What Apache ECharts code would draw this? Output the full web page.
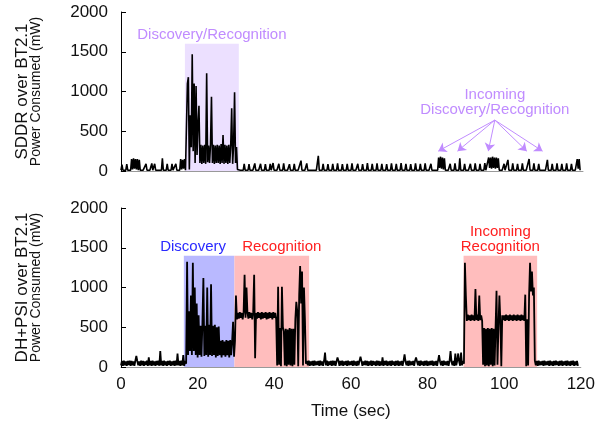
<!DOCTYPE html>
<html>
<head>
<meta charset="utf-8">
<script src="https://cdn.jsdelivr.net/npm/echarts@6/dist/echarts.min.js"></script>
<style>
	html, body { margin: 0; padding: 0; background: #fff; }
	#main { width: 598px; height: 425px; }
</style>
</head>
<body>
<div id="main"></div>
<script>
// sample step (sec) of both traces
var stepSec = 0.25;

var xTicks = [0, 20, 40, 60, 80, 100, 120];

// SDDR over BT2.1, one row = 5 sec
var sddrPower = [
	10, 80, 10, 10, 10, 10, 85, 10, 10, 10, 10, 150, 20, 160, 30, 150, 20, 150, 10, 140,
	10, 10, 10, 10, 10, 10, 90, 10, 10, 10, 10, 10, 95, 10, 10, 90, 10, 10, 10, 10,
	10, 10, 10, 160, 10, 10, 10, 10, 90, 10, 10, 10, 10, 90, 10, 10, 10, 90, 10, 10,
	10, 10, 150, 20, 140, 30, 150, 10, 30, 1100, 1180, 20, 700, 300, 1470, 250, 1100, 100, 1070, 200,
	600, 820, 100, 330, 90, 320, 100, 330, 90, 1230, 110, 320, 100, 330, 935, 100, 330, 90, 320, 100,
	330, 100, 320, 90, 340, 100, 453, 90, 330, 100, 320, 90, 330, 100, 320, 790, 90, 330, 990, 100,
	300, 20, 10, 10, 10, 10, 10, 10, 90, 10, 10, 10, 10, 85, 10, 10, 10, 10, 10, 95,
	10, 10, 10, 10, 10, 90, 10, 10, 10, 10, 85, 10, 10, 10, 10, 90, 10, 10, 100, 10,
	10, 10, 10, 10, 90, 10, 10, 10, 10, 95, 10, 10, 10, 10, 10, 85, 10, 10, 10, 10,
	90, 10, 10, 10, 10, 10, 10, 130, 10, 10, 10, 10, 10, 95, 10, 10, 10, 10, 10, 10,
	10, 10, 10, 10, 10, 190, 10, 10, 10, 10, 90, 10, 10, 10, 10, 85, 10, 10, 10, 10,
	90, 10, 10, 10, 10, 95, 10, 10, 10, 10, 85, 10, 10, 10, 10, 90, 10, 10, 10, 10,
	95, 10, 10, 10, 10, 10, 90, 10, 10, 10, 10, 85, 10, 10, 10, 10, 100, 10, 10, 10,
	10, 90, 10, 10, 10, 10, 95, 10, 10, 10, 10, 90, 10, 10, 10, 10, 85, 10, 10, 10,
	10, 95, 10, 10, 10, 10, 90, 10, 10, 10, 10, 100, 10, 10, 10, 10, 90, 10, 10, 10,
	10, 85, 10, 10, 10, 10, 95, 10, 10, 10, 10, 90, 10, 10, 10, 10, 95, 10, 10, 10,
	10, 10, 90, 10, 10, 10, 10, 10, 10, 10, 170, 40, 180, 30, 170, 20, 160, 10, 10, 10,
	10, 10, 90, 10, 10, 10, 10, 95, 10, 10, 10, 10, 160, 10, 10, 10, 10, 90, 10, 10,
	10, 10, 10, 90, 10, 10, 10, 10, 95, 10, 10, 10, 10, 90, 10, 10, 10, 10, 100, 10,
	10, 10, 170, 40, 170, 30, 180, 40, 170, 30, 170, 40, 160, 10, 10, 10, 10, 10, 90, 10,
	10, 10, 140, 10, 10, 10, 10, 95, 10, 10, 10, 10, 90, 10, 10, 10, 10, 95, 10, 10,
	10, 10, 10, 10, 150, 10, 10, 10, 10, 95, 10, 10, 10, 10, 90, 10, 10, 10, 10, 10,
	10, 10, 10, 140, 10, 10, 10, 10, 90, 10, 10, 10, 10, 95, 10, 10, 10, 10, 90, 10,
	10, 10, 10, 95, 10, 10, 10, 10, 90, 10, 10, 10, 10, 10, 150, 30, 150, 10
];

// DH+PSI over BT2.1, one row = 5 sec
var dhPsiPower = [
	20, 75, 15, 80, 20, 70, 15, 75, 25, 80, 15, 75, 20, 70, 15, 80, 140, 75, 20, 70,
	15, 80, 20, 75, 15, 70, 25, 80, 15, 120, 20, 75, 15, 80, 20, 70, 15, 75, 25, 80,
	15, 200, 20, 75, 15, 80, 20, 70, 15, 75, 25, 80, 15, 70, 20, 75, 15, 80, 20, 170,
	20, 75, 15, 80, 20, 150, 15, 75, 40, 1325, 150, 700, 200, 900, 150, 1310, 200, 1000, 150, 800,
	120, 650, 150, 520, 130, 550, 1120, 140, 520, 150, 1000, 130, 530, 150, 1040, 140, 520, 150, 530, 120,
	500, 140, 510, 150, 330, 120, 340, 150, 320, 130, 340, 150, 330, 120, 340, 150, 320, 570, 130, 330,
	900, 600, 680, 610, 690, 620, 680, 600, 690, 1160, 620, 1000, 680, 610, 690, 620, 680, 600, 690, 1160,
	110, 680, 610, 690, 620, 680, 600, 690, 610, 680, 620, 690, 600, 680, 610, 690, 620, 680, 600, 690,
	620, 680, 600, 20, 1010, 30, 490, 10, 1010, 500, 450, 20, 480, 10, 470, 30, 490, 20, 480, 10,
	480, 30, 600, 820, 700, 10, 900, 1270, 800, 1200, 20, 1000, 600, 40, 75, 20, 80, 15, 70, 20,
	75, 15, 80, 20, 70, 25, 75, 15, 80, 20, 70, 15, 75, 180, 20, 80, 15, 70, 25, 75,
	15, 80, 20, 75, 15, 70, 120, 80, 15, 75, 20, 80, 15, 70, 25, 75, 15, 80, 20, 70,
	25, 75, 15, 80, 20, 70, 15, 75, 20, 80, 130, 75, 15, 70, 25, 80, 20, 75, 15, 70,
	20, 80, 15, 75, 25, 70, 15, 80, 20, 75, 15, 70, 20, 120, 15, 75, 25, 80, 15, 70,
	20, 75, 15, 80, 25, 70, 15, 75, 20, 80, 15, 70, 20, 75, 15, 80, 160, 70, 20, 75,
	15, 80, 20, 70, 25, 75, 15, 80, 120, 70, 20, 75, 15, 80, 25, 70, 15, 75, 20, 80,
	15, 70, 20, 75, 25, 80, 15, 70, 20, 75, 15, 80, 150, 70, 20, 75, 15, 80, 25, 70,
	20, 75, 15, 80, 200, 70, 20, 75, 15, 170, 20, 80, 170, 70, 15, 180, 20, 75, 40, 1310,
	900, 580, 660, 590, 650, 580, 660, 590, 650, 580, 980, 590, 660, 580, 900, 590, 650, 580, 30, 490,
	10, 480, 20, 490, 10, 480, 30, 490, 10, 480, 20, 490, 960, 30, 490, 900, 580, 10, 650, 590,
	650, 580, 660, 590, 650, 580, 660, 590, 650, 580, 660, 590, 650, 580, 660, 590, 650, 580, 660, 590,
	650, 580, 910, 10, 600, 20, 900, 1310, 950, 1200, 900, 1000, 80, 20, 75, 15, 80, 20, 70, 25,
	75, 15, 80, 20, 70, 25, 75, 15, 80, 20, 70, 15, 75, 20, 80, 25, 70, 15, 75, 20,
	80, 15, 70, 25, 75, 15, 80, 20, 70, 15, 75, 25, 80, 15, 70, 20, 75, 15
];

// shaded phases: [start sec, end sec, top mW]
var sddrPhase = [16.6, 30.6, 1600];
var discoveryPhase = [16.4, 29.6, 1400];
var recognitionPhase = [29.6, 49.1, 1400];
var incomingPhase = [89.4, 108.6, 1400];

// arrows for "Incoming Discovery/Recognition": start point, then targets
var arrowFrom = [97.1, 640];
var arrowTo = [[82.4, 250], [87.4, 250], [95.4, 250], [105.4, 250], [109.5, 250]];

function toPairs(values) {
	return values.map(function (v, i) {
		return [i * stepSec, v];
	});
}

var chartDom = document.getElementById('main');
var myChart = echarts.init(chartDom);
var option;

var fontName = 'Liberation Sans';
var purple = '#c08cff';

function makeXAxis(gridIndex, showLabels) {
	return {
		type: 'value',
		gridIndex: gridIndex,
		min: xTicks[0],
		max: xTicks[xTicks.length - 1],
		interval: xTicks[1] - xTicks[0],
		axisLine: { show: true, lineStyle: { color: '#999', width: 1 } },
		axisTick: { show: false },
		splitLine: { show: false },
		axisLabel: {
			show: showLabels,
			fontFamily: fontName,
			fontSize: 17,
			color: '#111',
			margin: 9
		},
		name: showLabels ? 'Time (sec)' : '',
		nameLocation: 'middle',
		nameGap: 36,
		nameTextStyle: { fontFamily: fontName, fontSize: 17, color: '#111' }
	};
}

function makeYAxis(gridIndex, title) {
	return {
		type: 'value',
		gridIndex: gridIndex,
		min: 0,
		max: 2000,
		interval: 500,
		axisLine: { show: true, lineStyle: { color: '#000', width: 1 } },
		axisTick: { show: true, inside: true, length: 5, lineStyle: { color: '#000' } },
		splitLine: { show: false },
		axisLabel: {
			fontFamily: fontName,
			fontSize: 17,
			color: '#111',
			margin: 13,
			formatter: function (v) { return String(v); }
		},
		name: '{big|' + title + '}\n{small|Power Consumed (mW)}',
		nameLocation: 'middle',
		nameRotate: 90,
		nameGap: 78,
		nameTextStyle: {
			fontFamily: fontName,
			color: '#111',
			lineHeight: 14,
			rich: {
				big: { fontFamily: fontName, fontSize: 17, color: '#111', lineHeight: 15 },
				small: { fontFamily: fontName, fontSize: 14, color: '#111', lineHeight: 13 }
			}
		}
	};
}

function phaseArea(phase, fill, text, textColor, dx) {
	return [
		{
			xAxis: phase[0],
			yAxis: 0,
			itemStyle: { color: fill },
			label: {
				show: !!text,
				formatter: text,
				position: 'top',
				distance: 1,
				offset: [dx || 0, 0],
				fontFamily: fontName,
				fontSize: 15,
				lineHeight: 15,
				align: 'center',
				color: textColor
			}
		},
		{ xAxis: phase[1], yAxis: phase[2] }
	];
}

option = {
	animation: false,
	grid: [
		{ left: 121, top: 12, width: 462, height: 159 },
		{ left: 121, top: 208, width: 462, height: 159 }
	],
	xAxis: [makeXAxis(0, false), makeXAxis(1, true)],
	yAxis: [makeYAxis(0, 'SDDR over BT2.1'), makeYAxis(1, 'DH+PSI over BT2.1')],
	series: [
		{
			name: 'SDDR',
			type: 'line',
			xAxisIndex: 0,
			yAxisIndex: 0,
			data: toPairs(sddrPower),
			showSymbol: false,
			sampling: null,
			lineStyle: { color: '#000', width: 1.6 },
			markArea: {
				silent: true,
				data: [phaseArea(sddrPhase, '#ece0ff', 'Discovery/Recognition', purple, 0)]
			},
			markLine: {
				silent: true,
				symbol: ['none', 'arrow'],
				symbolSize: 8,
				label: { show: false },
				lineStyle: { color: purple, width: 1, type: 'solid' },
				data: arrowTo.map(function (p) {
					return [{ coord: arrowFrom }, { coord: p }];
				})
			},
			markPoint: {
				silent: true,
				symbol: 'circle',
				symbolSize: 0,
				data: [{ coord: arrowFrom }],
				label: {
					show: true,
					position: 'top',
					distance: 3,
					formatter: 'Incoming\nDiscovery/Recognition',
					fontFamily: fontName,
					fontSize: 15,
					lineHeight: 15,
					align: 'center',
					color: purple
				}
			}
		},
		{
			name: 'DH+PSI',
			type: 'line',
			xAxisIndex: 1,
			yAxisIndex: 1,
			data: toPairs(dhPsiPower),
			showSymbol: false,
			sampling: null,
			lineStyle: { color: '#000', width: 1.8 },
			markArea: {
				silent: true,
				data: [
					phaseArea(discoveryPhase, '#b9b9ff', 'Discovery', '#2a2aff', -16),
					phaseArea(recognitionPhase, '#ffbdbd', 'Recognition', '#ff2020', 10),
					phaseArea(incomingPhase, '#ffbdbd', 'Incoming\nRecognition', '#ff2020', 0)
				]
			}
		}
	]
};

option && myChart.setOption(option);
</script>
</body>
</html>
